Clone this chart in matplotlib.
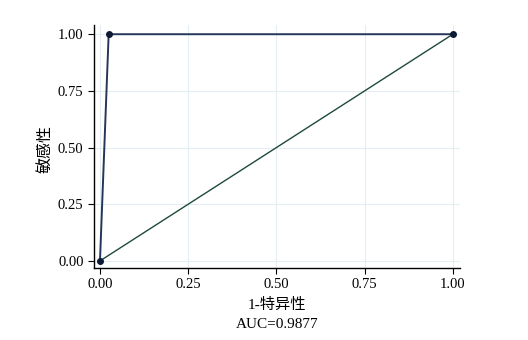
import matplotlib
matplotlib.use("Agg")
import matplotlib.pyplot as plt

plt.rcParams['font.family'] = ['Liberation Serif', 'Noto Sans CJK SC']

roc_x = [0.0, 0.0246, 1.0]
roc_y = [0.0, 1.0, 1.0]
ref_x = [0.0, 1.0]
ref_y = [0.0, 1.0]
ticks = [0.0, 0.25, 0.5, 0.75, 1.0]
tick_labels = ["0.00", "0.25", "0.50", "0.75", "1.00"]
auc_text = "AUC=0.9877"

fig = plt.figure(figsize=(5.28, 3.40), dpi=100)
ax = fig.add_axes([0.178, 0.212, 0.693, 0.714])
ax.set_xlim(-0.017, 1.02)
ax.set_ylim(-0.031, 1.04)

ax.plot(ref_x, ref_y, color='#1f4a3a', lw=1.0, zorder=2)
ax.plot(roc_x, roc_y, color='#26365a', lw=1.4, zorder=3,
        marker='o', markersize=4, markerfacecolor='#0d1a33', markeredgecolor='#0d1a33')

ax.set_xticks(ticks)
ax.set_xticklabels(tick_labels)
ax.set_yticks(ticks)
ax.set_yticklabels(tick_labels)
ax.grid(True, color='#e4eef2', lw=0.8, zorder=0)
ax.set_axisbelow(True)
for s in ['top', 'right']:
    ax.spines[s].set_visible(False)
for s in ['left', 'bottom']:
    ax.spines[s].set_color('black')
    ax.spines[s].set_linewidth(1.0)
ax.tick_params(direction='out', length=4, width=0.8, labelsize=10.5, colors='black')

ax.set_xlabel("1-特异性", fontsize=11, labelpad=5)
ax.set_ylabel("敏感性", fontsize=11.5)
ax.yaxis.set_label_coords(-0.112, 0.49)
fig.text(0.525, 0.045, auc_text, ha='center', va='center', fontsize=11)

fig.savefig("out.png", dpi=100)
